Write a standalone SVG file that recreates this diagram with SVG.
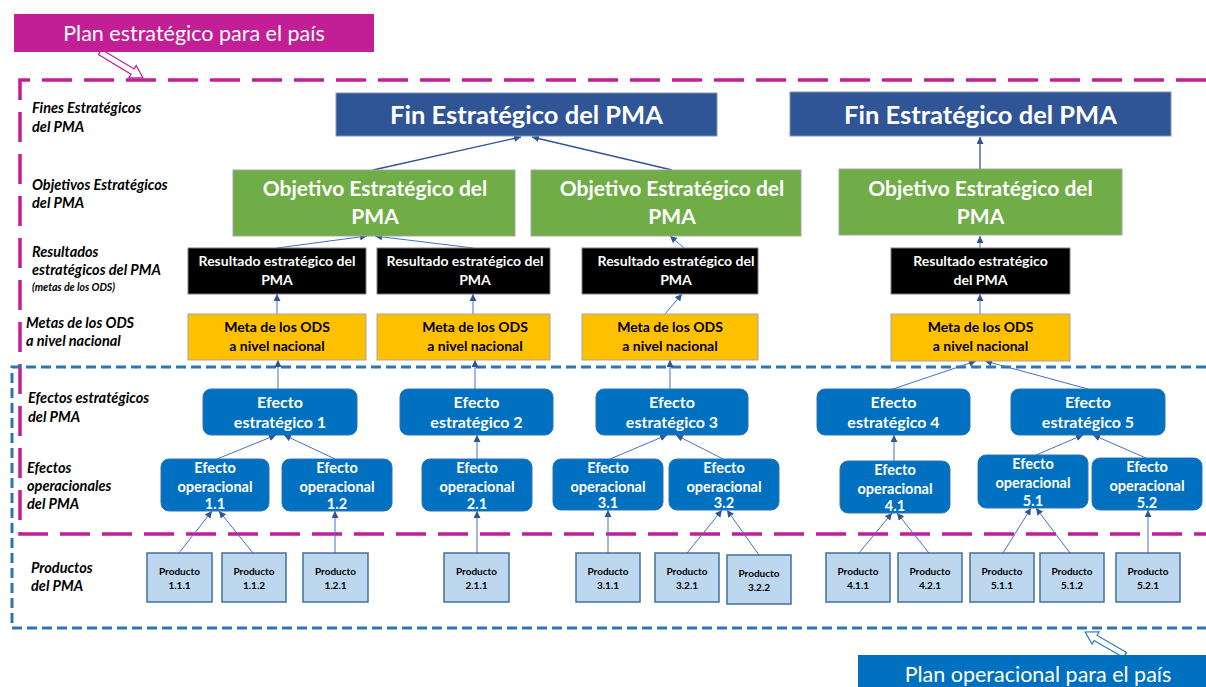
<svg xmlns="http://www.w3.org/2000/svg" width="1206" height="687" viewBox="0 0 1206 687">
<defs>
<marker id="ah" markerUnits="userSpaceOnUse" markerWidth="8" markerHeight="8" refX="7" refY="3.5" orient="auto">
<path d="M0,0 L7,3.5 L0,7 z" fill="#2F5597"/>
</marker>
<style>
.t{font-family:Lato,"Open Sans","Liberation Sans",sans-serif;font-weight:bold;text-anchor:middle}
.lab{font-family:Lato,"Open Sans","Liberation Sans",sans-serif;font-weight:bold;font-style:italic;font-size:14.5px;fill:#000}
.fin{fill:#2F5597;stroke:#8497B0;stroke-width:1}
.obj{fill:#70AD47;stroke:#A5A5A5;stroke-width:1}
.res{fill:#000;stroke:#7F7F7F;stroke-width:1}
.met{fill:#FFC000;stroke:#A5A5A5;stroke-width:1}
.ef{fill:#0070C0;stroke:#2E75B6;stroke-width:1}
.pr{fill:#BDD7EE;stroke:#41719C;stroke-width:1.5}
.w{fill:#fff}
.k{fill:#000}
.fs1{font-size:25.5px}
.fs2{font-size:21px}
.fs3{font-size:14px}
.fs4{font-size:16px}
.fs5{font-size:14.5px}
.fs6{font-size:10px}
.c{fill:none;stroke:#4472C4;stroke-width:1;marker-end:url(#ah)}
.c2{fill:none;stroke:#2F5597;stroke-width:1.3;marker-end:url(#ah)}
</style>
</defs>
<rect width="1206" height="687" fill="#fff"/>

<g id="frames">
<path d="M1206,80 L20,80 L20,534 L1206,534" fill="none" stroke="#C01F97" stroke-width="3.5" stroke-dasharray="30,12"/>
<path d="M1206,367 L12,367 L12,628 L1206,628" fill="none" stroke="#2E75B6" stroke-width="3" stroke-dasharray="10,5"/>
</g>

<g id="plan-estrategico">
<polygon points="0,-3 38,-3 38,-7 50,0 38,7 38,3 0,3" transform="translate(100,52) rotate(31)" fill="#fff" stroke="#C01F97" stroke-width="1.2"/>
<rect x="14" y="14" width="360" height="38" fill="#C21E96"/>
<text x="194" y="41" class="t w" style="font-weight:normal;font-size:21.5px">Plan estratégico para el país</text>
</g>
<g id="plan-operacional">
<polygon points="0,-3 34,-3 34,-7 46,0 34,7 34,3 0,3" transform="translate(1125,655) rotate(210)" fill="#fff" stroke="#2E75B6" stroke-width="1.2"/>
<rect x="858" y="655" width="348" height="32" fill="#0070C0"/>
<text x="1038" y="682" class="t w" style="font-weight:normal;font-size:21.5px">Plan operacional para el país</text>
</g>

<g id="row-labels">
<text class="lab" x="32" y="113">Fines Estratégicos</text>
<text class="lab" x="32" y="132">del PMA</text>
<text class="lab" x="32" y="190">Objetivos Estratégicos</text>
<text class="lab" x="32" y="208">del PMA</text>
<text class="lab" x="32" y="257">Resultados</text>
<text class="lab" x="32" y="275">estratégicos del PMA</text>
<text class="lab" x="32" y="291" style="font-size:10.5px">(metas de los ODS)</text>
<text class="lab" x="26" y="328">Metas de los ODS</text>
<text class="lab" x="26" y="346">a nivel nacional</text>
<text class="lab" x="28" y="403">Efectos estratégicos</text>
<text class="lab" x="28" y="422">del PMA</text>
<text class="lab" x="27" y="473">Efectos</text>
<text class="lab" x="27" y="491">operacionales</text>
<text class="lab" x="27" y="509">del PMA</text>
<text class="lab" x="31" y="573">Productos</text>
<text class="lab" x="31" y="591">del PMA</text>
</g>

<g id="connectors">
<line class="c2" x1="373" y1="170" x2="521" y2="137"/>
<line class="c2" x1="672" y1="170" x2="532" y2="137"/>
<line class="c2" x1="980" y1="169" x2="980" y2="137"/>
<line class="c" x1="277" y1="248" x2="367" y2="236"/>
<line class="c" x1="473" y1="248" x2="375" y2="236"/>
<line class="c" x1="684" y1="248" x2="670" y2="236"/>
<line class="c" x1="980" y1="248" x2="980" y2="236"/>
<line class="c" x1="277" y1="314" x2="277" y2="294"/>
<line class="c" x1="473" y1="314" x2="473" y2="294"/>
<line class="c" x1="665" y1="314" x2="682" y2="294"/>
<line class="c" x1="980" y1="314" x2="980" y2="294"/>
<line class="c" x1="278" y1="389" x2="278" y2="360"/>
<line class="c" x1="475" y1="389" x2="475" y2="360"/>
<line class="c" x1="670" y1="389" x2="670" y2="360"/>
<line class="c" x1="893" y1="389" x2="976" y2="361"/>
<line class="c" x1="1088" y1="389" x2="985" y2="361"/>
<line class="c" x1="217" y1="459" x2="276" y2="435"/>
<line class="c" x1="335" y1="459" x2="284" y2="435"/>
<line class="c" x1="477" y1="459" x2="477" y2="435"/>
<line class="c" x1="610" y1="459" x2="667" y2="435"/>
<line class="c" x1="723" y1="459" x2="676" y2="435"/>
<line class="c" x1="894" y1="461" x2="894" y2="435"/>
<line class="c" x1="1036" y1="455" x2="1083" y2="435"/>
<line class="c" x1="1146" y1="458" x2="1093" y2="435"/>
<line class="c" x1="179" y1="553" x2="212" y2="511"/>
<line class="c" x1="253" y1="553" x2="219" y2="511"/>
<line class="c" x1="335" y1="553" x2="335" y2="511"/>
<line class="c" x1="477" y1="553" x2="477" y2="511"/>
<line class="c" x1="608" y1="553" x2="608" y2="510"/>
<line class="c" x1="687" y1="553" x2="722" y2="510"/>
<line class="c" x1="759" y1="555" x2="727" y2="510"/>
<line class="c" x1="859" y1="553" x2="892" y2="513"/>
<line class="c" x1="929" y1="553" x2="897" y2="513"/>
<line class="c" x1="1003" y1="553" x2="1031" y2="508"/>
<line class="c" x1="1070" y1="553" x2="1036" y2="508"/>
<line class="c" x1="1148" y1="553" x2="1148" y2="510"/>
</g>

<g id="fin1"><rect class="fin" x="336" y="93" width="381" height="43"/><text class="t w fs1" x="526.5" y="124">Fin Estratégico del PMA</text></g>
<g id="fin2"><rect class="fin" x="790" y="92" width="381" height="44"/><text class="t w fs1" x="980.5" y="124">Fin Estratégico del PMA</text></g>

<g id="obj1"><rect class="obj" x="233" y="170" width="282" height="66"/><text class="t w fs2" x="375" y="196">Objetivo Estratégico del</text><text class="t w fs2" x="375" y="224">PMA</text></g>
<g id="obj2"><rect class="obj" x="531" y="170" width="270" height="66"/><text class="t w fs2" x="672" y="196">Objetivo Estratégico del</text><text class="t w fs2" x="672" y="224">PMA</text></g>
<g id="obj3"><rect class="obj" x="839" y="169" width="283" height="66"/><text class="t w fs2" x="980.5" y="196">Objetivo Estratégico del</text><text class="t w fs2" x="980.5" y="224">PMA</text></g>

<g id="res1"><rect class="res" x="188" y="248" width="178" height="46"/><text class="t w fs3" x="277" y="266">Resultado estratégico del</text><text class="t w fs3" x="277" y="285">PMA</text></g>
<g id="res2"><rect class="res" x="377" y="248" width="173" height="46"/><text class="t w fs3" x="465" y="266">Resultado estratégico del</text><text class="t w fs3" x="475" y="285">PMA</text></g>
<g id="res3"><rect class="res" x="582" y="248" width="176" height="46"/><text class="t w fs3" x="676" y="266">Resultado estratégico del</text><text class="t w fs3" x="676" y="285">PMA</text></g>
<g id="res4"><rect class="res" x="891" y="248" width="179" height="46"/><text class="t w fs3" x="980.5" y="266">Resultado estratégico</text><text class="t w fs3" x="980.5" y="285">del PMA</text></g>

<g id="meta1"><rect class="met" x="188" y="314" width="178" height="46"/><text class="t k fs3" x="277" y="332">Meta de los ODS</text><text class="t k fs3" x="277" y="351">a nivel nacional</text></g>
<g id="meta2"><rect class="met" x="377" y="314" width="173" height="46"/><text class="t k fs3" x="475" y="332">Meta de los ODS</text><text class="t k fs3" x="475" y="351">a nivel nacional</text></g>
<g id="meta3"><rect class="met" x="582" y="314" width="176" height="46"/><text class="t k fs3" x="670" y="332">Meta de los ODS</text><text class="t k fs3" x="670" y="351">a nivel nacional</text></g>
<g id="meta4"><rect class="met" x="891" y="314" width="179" height="47"/><text class="t k fs3" x="980.5" y="332">Meta de los ODS</text><text class="t k fs3" x="980.5" y="351">a nivel nacional</text></g>

<g id="es1"><rect class="ef" x="203" y="389" width="154" height="46" rx="8"/><text class="t w fs4" x="280" y="408">Efecto</text><text class="t w fs4" x="280" y="428">estratégico 1</text></g>
<g id="es2"><rect class="ef" x="400" y="389" width="153" height="46" rx="8"/><text class="t w fs4" x="476.5" y="408">Efecto</text><text class="t w fs4" x="476.5" y="428">estratégico 2</text></g>
<g id="es3"><rect class="ef" x="596" y="389" width="152" height="46" rx="8"/><text class="t w fs4" x="672" y="408">Efecto</text><text class="t w fs4" x="672" y="428">estratégico 3</text></g>
<g id="es4"><rect class="ef" x="817" y="389" width="153" height="46" rx="8"/><text class="t w fs4" x="893.5" y="408">Efecto</text><text class="t w fs4" x="893.5" y="428">estratégico 4</text></g>
<g id="es5"><rect class="ef" x="1011" y="389" width="154" height="46" rx="8"/><text class="t w fs4" x="1088" y="408">Efecto</text><text class="t w fs4" x="1088" y="428">estratégico 5</text></g>

<g id="op11"><rect class="ef" x="161" y="459" width="108" height="52" rx="8"/><text class="t w fs5" x="215" y="473">Efecto</text><text class="t w fs5" x="215" y="492">operacional</text><text class="t w fs5" x="215" y="509">1.1</text></g>
<g id="op12"><rect class="ef" x="282" y="459" width="110" height="52" rx="8"/><text class="t w fs5" x="337" y="473">Efecto</text><text class="t w fs5" x="337" y="492">operacional</text><text class="t w fs5" x="337" y="509">1.2</text></g>
<g id="op21"><rect class="ef" x="422" y="459" width="110" height="52" rx="8"/><text class="t w fs5" x="477" y="473">Efecto</text><text class="t w fs5" x="477" y="492">operacional</text><text class="t w fs5" x="477" y="509">2.1</text></g>
<g id="op31"><rect class="ef" x="553" y="459" width="110" height="51" rx="8"/><text class="t w fs5" x="608" y="473">Efecto</text><text class="t w fs5" x="608" y="492">operacional</text><text class="t w fs5" x="608" y="508">3.1</text></g>
<g id="op32"><rect class="ef" x="669" y="459" width="110" height="51" rx="8"/><text class="t w fs5" x="724" y="473">Efecto</text><text class="t w fs5" x="724" y="492">operacional</text><text class="t w fs5" x="724" y="508">3.2</text></g>
<g id="op41"><rect class="ef" x="840" y="461" width="110" height="52" rx="8"/><text class="t w fs5" x="895" y="475">Efecto</text><text class="t w fs5" x="895" y="494">operacional</text><text class="t w fs5" x="895" y="511">4.1</text></g>
<g id="op51"><rect class="ef" x="978" y="455" width="110" height="53" rx="8"/><text class="t w fs5" x="1033" y="469">Efecto</text><text class="t w fs5" x="1033" y="488">operacional</text><text class="t w fs5" x="1033" y="506">5.1</text></g>
<g id="op52"><rect class="ef" x="1092" y="458" width="110" height="52" rx="8"/><text class="t w fs5" x="1147" y="472">Efecto</text><text class="t w fs5" x="1147" y="491">operacional</text><text class="t w fs5" x="1147" y="508">5.2</text></g>

<g id="p111"><rect class="pr" x="147" y="553" width="65" height="49"/><text class="t k fs6" x="179.5" y="575">Producto</text><text class="t k fs6" x="179.5" y="589">1.1.1</text></g>
<g id="p112"><rect class="pr" x="222" y="553" width="64" height="49"/><text class="t k fs6" x="254" y="575">Producto</text><text class="t k fs6" x="254" y="589">1.1.2</text></g>
<g id="p121"><rect class="pr" x="303" y="553" width="65" height="49"/><text class="t k fs6" x="335.5" y="575">Producto</text><text class="t k fs6" x="335.5" y="589">1.2.1</text></g>
<g id="p211"><rect class="pr" x="444" y="553" width="65" height="49"/><text class="t k fs6" x="476.5" y="575">Producto</text><text class="t k fs6" x="476.5" y="589">2.1.1</text></g>
<g id="p311"><rect class="pr" x="576" y="553" width="64" height="49"/><text class="t k fs6" x="608" y="575">Producto</text><text class="t k fs6" x="608" y="589">3.1.1</text></g>
<g id="p321"><rect class="pr" x="655" y="553" width="64" height="49"/><text class="t k fs6" x="687" y="575">Producto</text><text class="t k fs6" x="687" y="589">3.2.1</text></g>
<g id="p322"><rect class="pr" x="727" y="555" width="64" height="49"/><text class="t k fs6" x="759" y="577">Producto</text><text class="t k fs6" x="759" y="591">3.2.2</text></g>
<g id="p411"><rect class="pr" x="826" y="553" width="64" height="49"/><text class="t k fs6" x="858" y="575">Producto</text><text class="t k fs6" x="858" y="589">4.1.1</text></g>
<g id="p421"><rect class="pr" x="898" y="553" width="64" height="49"/><text class="t k fs6" x="930" y="575">Producto</text><text class="t k fs6" x="930" y="589">4.2.1</text></g>
<g id="p511"><rect class="pr" x="970" y="553" width="64" height="49"/><text class="t k fs6" x="1002" y="575">Producto</text><text class="t k fs6" x="1002" y="589">5.1.1</text></g>
<g id="p512"><rect class="pr" x="1040" y="553" width="64" height="49"/><text class="t k fs6" x="1072" y="575">Producto</text><text class="t k fs6" x="1072" y="589">5.1.2</text></g>
<g id="p521"><rect class="pr" x="1116" y="553" width="64" height="49"/><text class="t k fs6" x="1148" y="575">Producto</text><text class="t k fs6" x="1148" y="589">5.2.1</text></g>
</svg>
